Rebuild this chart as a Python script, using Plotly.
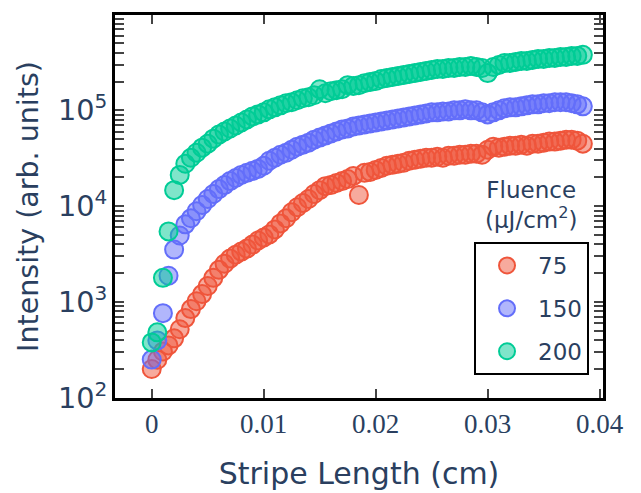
import numpy as np
import plotly.graph_objects as go

# Stripe length positions (cm), 0.0005 cm steps
stripe_length = np.round(np.arange(78) * 0.0005, 4)

# Integrated emission intensity (arb. units) for each pump fluence
intensity_75 = [
    200, 250, 305, 353, 418, 520, 680, 845, 1020, 1210,
    1470, 1790, 2170, 2510, 2840, 3120, 3360, 3610, 3980, 4390,
    4720, 5080, 5730, 6620, 7480, 8650, 9760, 10800, 11900, 13400,
    14700, 16200, 16600, 17500, 18300, 19200, 20700, 13100, 22300, 22800,
    23900, 25100, 26400, 27000, 27700, 28400, 29800, 30500, 31300, 32000,
    32000, 32800, 32000, 33600, 33600, 34400, 34400, 35300, 35300, 34400,
    38800, 41800, 40800, 41800, 42800, 42800, 43900, 42800, 44900, 44900,
    46000, 47200, 47200, 48300, 49500, 49500, 48300, 44900,
]
intensity_150 = [
    251, 398, 766, 1880, 3530, 4950, 6470, 7480, 8860, 10300,
    11900, 13400, 15100, 16600, 18300, 19700, 21200, 22300, 23400, 24500,
    26400, 29800, 32000, 34400, 36100, 38800, 41800, 43900, 46000, 49500,
    52000, 54600, 57300, 60200, 63100, 64700, 67900, 69500, 71300, 73000,
    74800, 76600, 78500, 80400, 82400, 84400, 86500, 88600, 90800, 93000,
    95300, 95300, 97600, 97600, 100000, 100000, 102500, 100000, 100000, 95300,
    90800, 95300, 100000, 105000, 107600, 107600, 110200, 112900, 115600, 115600,
    118500, 118500, 121400, 121400, 121400, 118500, 115600, 110200,
]
intensity_200 = [
    379, 483, 1790, 5460, 14700, 21200, 27700, 32000, 36100, 40800,
    44900, 50700, 55900, 60200, 64700, 69500, 74800, 80400, 86500, 90800,
    95300, 102500, 107600, 112900, 118500, 121400, 127400, 133700, 137000, 143800,
    166300, 151000, 158500, 162400, 166300, 183300, 179100, 183300, 192300, 197100,
    201900, 211900, 217200, 222400, 228000, 233500, 239300, 245000, 251200, 257300,
    263600, 270200, 270200, 276800, 276800, 283600, 283600, 290600, 283600, 276800,
    245000, 283600, 297700, 312600, 312600, 320200, 328100, 328100, 336100, 344300,
    344300, 352700, 352700, 361400, 361400, 370200, 370200, 379300,
]

fluence_labels = ["75", "150", "200"]
series = [intensity_75, intensity_150, intensity_200]
line_colors = ["#EF553B", "#636EFA", "#00CC96"]
fill_colors = ["rgba(239,85,59,0.5)", "rgba(99,110,250,0.5)", "rgba(0,204,150,0.5)"]

TEXT = "#2a3f5f"
SANS = "DejaVu Sans"

fig = go.Figure()
for name, ys, lc, fc in zip(fluence_labels, series, line_colors, fill_colors):
    fig.add_trace(go.Scatter(
        x=stripe_length, y=ys, name=name, mode="markers",
        legendgroup=name,
        marker=dict(size=18, color=fc, line=dict(color=lc, width=2)),
    ))

axis_common = dict(
    showline=True, linecolor="black", linewidth=3, mirror="ticks",
    ticks="inside", ticklen=9, tickwidth=2, tickcolor="#444",
    showgrid=False, zeroline=False, automargin=False,
)

fig.update_xaxes(
    **axis_common,
    range=[-0.00328, 0.0403], dtick=0.01, tick0=0,
    ticklabelstandoff=0,
    tickfont=dict(family="Liberation Serif", size=27, color=TEXT),
    title=dict(text="Stripe Length (cm)",
               font=dict(family=SANS, size=30, color=TEXT), standoff=25),
)
fig.update_yaxes(
    **axis_common,
    type="log", range=[1.999, 5.995], dtick=1,
    exponentformat="power",
    minor=dict(ticks="inside", ticklen=9, tickwidth=2, tickcolor="#444", showgrid=False),
    tickfont=dict(family=SANS, size=23, color=TEXT),
    title=dict(text="Intensity (arb. units)",
               font=dict(family=SANS, size=28.5, color=TEXT), standoff=12),
)

fig.update_layout(
    width=641, height=493,
    margin=dict(l=115, r=38, t=15, b=95),
    paper_bgcolor="white", plot_bgcolor="white",
    legend=dict(
        x=0.7357, y=0.4073, xanchor="left", yanchor="top",
        bordercolor="black", borderwidth=2, bgcolor="white",
        font=dict(family=SANS, size=23, color=TEXT),
        traceorder="grouped", tracegroupgap=10,
        itemwidth=52,
    ),
    annotations=[dict(
        text="Fluence<br>(μJ/cm<sup>2</sup>)",
        x=0.8525, y=0.504, xref="paper", yref="paper",
        xanchor="center", yanchor="middle", showarrow=False,
        font=dict(family=SANS, size=23, color=TEXT),
    )],
)

fig.write_html("out.html")
